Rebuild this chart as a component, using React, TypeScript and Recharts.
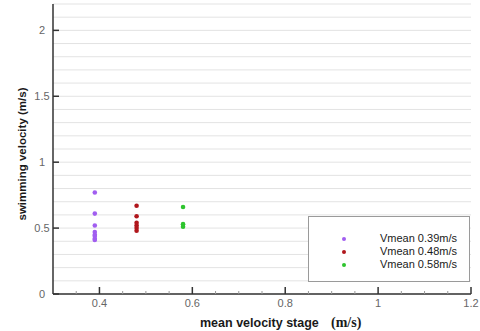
import React from 'react';
import { ScatterChart, Scatter, XAxis, YAxis, CartesianGrid, Legend, Label } from 'recharts';

const seriesNames = ['Vmean 0.39m/s', 'Vmean 0.48m/s', 'Vmean 0.58m/s'];
const seriesStage = [0.39, 0.48, 0.58];
const seriesColors = ['#a15ef0', '#b0161c', '#2ec42e'];
const purpleValues = [0.77, 0.61, 0.52, 0.47, 0.45, 0.44, 0.42, 0.41];
const redValues = [0.67, 0.59, 0.54, 0.52, 0.5, 0.48];
const greenValues = [0.66, 0.53, 0.51];
const seriesValues = [purpleValues, redValues, greenValues];

const xTicks = [0.3, 0.35, 0.4, 0.45, 0.5, 0.55, 0.6, 0.65, 0.7, 0.75, 0.8, 0.85, 0.9, 0.95, 1, 1.05, 1.1, 1.15, 1.2];
const xTickLabels = [0.4, 0.6, 0.8, 1, 1.2];
const yTicks = [0, 0.1, 0.2, 0.3, 0.4, 0.5, 0.6, 0.7, 0.8, 0.9, 1, 1.1, 1.2, 1.3, 1.4, 1.5, 1.6, 1.7, 1.8, 1.9, 2, 2.1, 2.2];
const yTickLabels = [0, 0.5, 1, 1.5, 2];

const xTitle = 'mean velocity stage';
const xUnit = '(m/s)';
const yTitle = 'swimming velocity (m/s)';

const FONT = 'Liberation Sans, Arial, sans-serif';

const datasets = seriesValues.map((vals, i) => vals.map((v) => ({ x: seriesStage[i], y: v })));

const isIn = (arr: number[], v: number) => arr.some((t) => Math.abs(t - v) < 1e-6);

const XTick = (props: any) => {
  const { x, y, payload } = props;
  const v = payload.value;
  const major = isIn(xTickLabels, v);
  if (v <= 0.3 + 1e-6) return <g />;
  return (
    <g>
      <line x1={x} x2={x} y1={y} y2={y - (major ? 7 : 3)} stroke={major ? '#333' : '#999'} strokeWidth={major ? 1.5 : 1} />
      {major && (
        <text x={x} y={y + 13} textAnchor="middle" fontSize={11} fill="#666" fontFamily={FONT}>
          {String(v)}
        </text>
      )}
    </g>
  );
};

const YTick = (props: any) => {
  const { x, y, payload } = props;
  const v = payload.value;
  const major = isIn(yTickLabels, v);
  if (!major) return <g />;
  return (
    <g>
      <line x1={x} x2={x + 6} y1={y} y2={y} stroke="#333" strokeWidth={1.5} />
      <text x={x - 11} y={y + 4} textAnchor="middle" fontSize={11} fill="#666" fontFamily={FONT}>
        {String(v)}
      </text>
    </g>
  );
};

const Dot = (color: string) => (props: any) => (
  <circle cx={props.cx} cy={props.cy} r={2.3} fill={color} />
);

const LegendBox = () => (
  <div
    style={{
      position: 'relative',
      width: 162,
      height: 66,
      border: '1.5px solid #9a9a9a',
      boxSizing: 'border-box',
      background: '#fff',
    }}
  >
    {seriesNames.map((name, i) => (
      <div key={name}>
        <div
          style={{
            position: 'absolute',
            left: 33,
            top: 20 + i * 13,
            width: 4,
            height: 4,
            borderRadius: 2,
            background: seriesColors[i],
          }}
        />
        <div
          style={{
            position: 'absolute',
            right: 12,
            top: 15 + i * 13,
            fontFamily: FONT,
            fontSize: 11,
            lineHeight: '13px',
            color: '#1a1a1a',
            whiteSpace: 'nowrap',
          }}
        >
          {name}
        </div>
      </div>
    ))}
  </div>
);

export default function App() {
  return (
    <div style={{ position: 'absolute', left: 0, top: 0, width: 480, height: 331, background: '#fff' }}>
      <ScatterChart width={480} height={331} margin={{ top: 4, right: 9, bottom: 0, left: 0 }}>
        <CartesianGrid horizontal={true} vertical={false} stroke="#e3e3e3" />
        <XAxis
          type="number"
          dataKey="x"
          domain={[0.3, 1.2]}
          ticks={xTicks}
          interval={0}
          height={37}
          tickSize={0}
          tickMargin={0}
          tickLine={false}
          axisLine={{ stroke: '#333', strokeWidth: 1.5 }}
          tick={<XTick />}
          allowDataOverflow
        >
          <Label
            content={() => (
              <text y={327} fontWeight="bold" fill="#1a1a1a">
                <tspan x={200} fontFamily={FONT} fontSize={12.5}>{xTitle}</tspan>
                <tspan x={331} fontFamily="Liberation Serif, Times New Roman, serif" fontSize={14}>{xUnit}</tspan>
              </text>
            )}
          />
        </XAxis>
        <YAxis
          type="number"
          dataKey="y"
          domain={[0, 2.2]}
          ticks={yTicks}
          interval={0}
          width={53}
          tickSize={0}
          tickMargin={0}
          tickLine={false}
          axisLine={{ stroke: '#333', strokeWidth: 1.5 }}
          tick={<YTick />}
          allowDataOverflow
        >
          <Label
            content={() => (
              <text
                x={22}
                y={154}
                transform="rotate(-90 22 154)"
                textAnchor="middle"
                dominantBaseline="central"
                fontFamily={FONT}
                fontSize={11.5}
                fontWeight="bold"
                fill="#1a1a1a"
              >
                {yTitle}
              </text>
            )}
          />
        </YAxis>
        <Legend
          layout="vertical"
          align="center"
          verticalAlign="middle"
          wrapperStyle={{ left: 308, top: 216, width: 162, height: 66 }}
          content={() => <LegendBox />}
        />
        {datasets.map((d, i) => (
          <Scatter
            key={seriesNames[i]}
            name={seriesNames[i]}
            data={d}
            fill={seriesColors[i]}
            shape={Dot(seriesColors[i])}
            isAnimationActive={false}
          />
        ))}
      </ScatterChart>
    </div>
  );
}
